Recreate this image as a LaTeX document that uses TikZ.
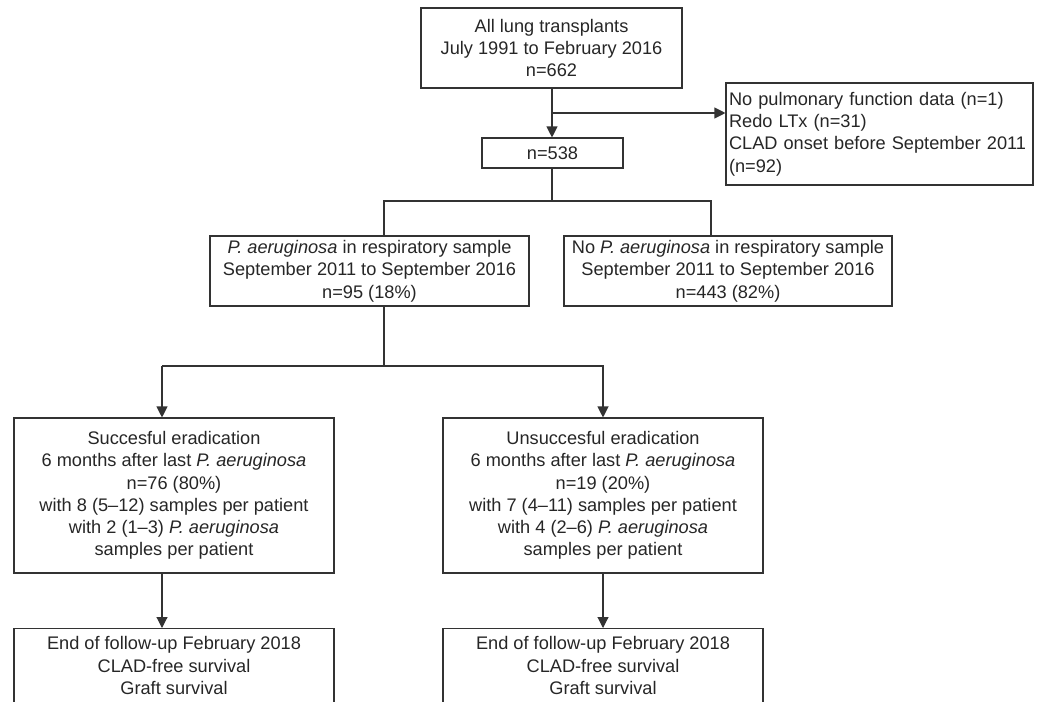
\documentclass[tikz,border=0pt]{standalone}
\usepackage{fontspec}
\setmainfont{Liberation Sans}
\usetikzlibrary{arrows.meta}
\definecolor{linegray}{HTML}{333333}
\definecolor{textgray}{HTML}{262626}
\begin{document}
\begin{tikzpicture}[x=1pt,y=-1pt,
  box/.style={draw=linegray,line width=1.1pt,inner sep=2pt,align=center,text=textgray,
    font=\fontsize{18.2}{22.3}\selectfont},
  link/.style={draw=linegray,line width=1.1pt},
  arr/.style={link,-{Triangle[width=11pt,length=11pt]}}]
\useasboundingbox (0,0) rectangle (1038,701);
\clip (0,0) rectangle (1038,701);
% boxes
\node[box,minimum width=261pt,minimum height=80pt] (all) at (551.5,48) {All lung transplants\\July 1991 to February 2016\\n=662};
\node[box,minimum width=141pt,minimum height=30pt] (n538) at (552.5,153) {n=538};
\node[box,align=left,text width=301pt,inner xsep=3pt,minimum height=102pt] (excl) at (879.5,134) {No pulmonary function data (n=1)\\Redo LTx (n=31)\\CLAD onset before September 2011\\(n=92)};
\node[box,minimum width=319pt,minimum height=70pt] (paL) at (369.5,271) {\textit{P. aeruginosa} in respiratory sample\\September 2011 to September 2016\\n=95 (18\%)};
\node[box,minimum width=328pt,minimum height=70pt] (paR) at (728,271) {No \textit{P. aeruginosa} in respiratory sample\\September 2011 to September 2016\\n=443 (82\%)};
\node[box,minimum width=320pt,minimum height=155pt] (succ) at (174,495.5) {Succesful eradication\\6 months after last \textit{P. aeruginosa}\\n=76 (80\%)\\with 8 (5--12) samples per patient\\with 2 (1--3) \textit{P. aeruginosa}\\samples per patient};
\node[box,minimum width=320pt,minimum height=155pt] (unsucc) at (603,495.5) {Unsuccesful eradication\\6 months after last \textit{P. aeruginosa}\\n=19 (20\%)\\with 7 (4--11) samples per patient\\with 4 (2--6) \textit{P. aeruginosa}\\samples per patient};
\node[box,minimum width=320pt,anchor=north,text height=64pt,text depth=40pt] (endL) at (174,628) {End of follow-up February 2018\\CLAD-free survival\\Graft survival};
\node[box,minimum width=320pt,anchor=north,text height=64pt,text depth=40pt] (endR) at (603,628) {End of follow-up February 2018\\CLAD-free survival\\Graft survival};
% junctions
\coordinate (br) at (552,113);
\coordinate (jL) at (384,201);
\coordinate (jR) at (711,201);
\coordinate (kL) at (162,366);
\coordinate (kR) at (603,366);
% connectors
\draw[arr] (all.south -| br) -- (n538.north -| br);
\draw[arr] (br) -- (br -| excl.west);
\draw[link] (n538.south -| br) -- (br |- jL);
\draw[link] (jL |- paL.north) -- (jL) -- (jR) -- (jR |- paR.north);
\draw[link] (jL |- paL.south) -- (jL |- kL);
\draw[arr] (kL) -- (kL |- succ.north);
\draw[arr] (kL) -- (kR) -- (kR |- unsucc.north);
\draw[arr] (kL |- succ.south) -- (kL |- endL.north);
\draw[arr] (kR |- unsucc.south) -- (kR |- endR.north);
\end{tikzpicture}
\end{document}
